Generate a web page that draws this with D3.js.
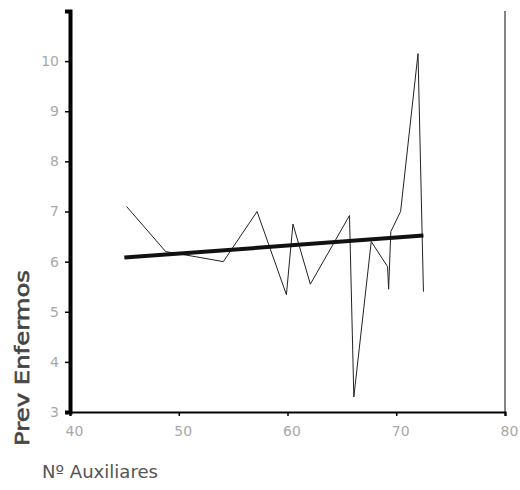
<!DOCTYPE html>
<html>
<head>
<meta charset="utf-8">
<script src="https://cdn.jsdelivr.net/npm/d3@7"></script>
<style>
  html, body { margin: 0; padding: 0; background: #fff; }
  svg { display: block; }
</style>
</head>
<body>
<svg id="chart" width="520" height="490"></svg>
<script>
// Data
const auxiliares = [45.2, 48.8, 51.5, 54.1, 57.2, 59.9, 60.5, 62.1, 65.7, 66.1, 67.7, 69.2, 69.3, 69.5, 70.4, 72.0, 72.5];
const prevEnfermos = [7.1, 6.2, 6.1, 6.0, 7.0, 5.34, 6.75, 5.55, 6.92, 3.3, 6.4, 5.9, 5.45, 6.6, 7.0, 10.15, 5.4];
const trendX = [45, 72.5];
const trendY = [6.08, 6.52];
const xTicks = [40, 50, 60, 70, 80];
const yTicks = [3, 4, 5, 6, 7, 8, 9, 10, 11];
const yTickLabels = ["3", "4", "5", "6", "7", "8", "9", "10", ""];
const xTitle = "Nº Auxiliares";
const yTitle = "Prev Enfermos";

(function () {
const svg = d3.select("#chart");
const mLeft = 70, mRight = 505, mTop = 11, mBottom = 412;

const x = d3.scaleLinear().domain([40, 80]).range([mLeft, mRight]);
const y = d3.scaleLinear().domain([3, 11]).range([mBottom, mTop]);

// right border
svg.append("line")
  .attr("x1", mRight).attr("x2", mRight)
  .attr("y1", mTop).attr("y2", mBottom)
  .attr("stroke", "#333").attr("stroke-width", 1.2);

// X axis
const xAxis = svg.append("g")
  .attr("transform", `translate(0,${mBottom})`)
  .call(d3.axisBottom(x).tickValues(xTicks).tickSize(4).tickPadding(10).tickFormat(d3.format("d")));
xAxis.select(".domain").attr("stroke", "#000").attr("stroke-width", 2.2);
xAxis.selectAll(".tick line").attr("stroke", "#000").attr("stroke-width", 1.5);
xAxis.selectAll(".tick text")
  .attr("fill", "#a8a8a8").attr("font-size", 14).attr("dx", 4)
  .attr("font-family", "DejaVu Sans, sans-serif");

// Y axis
const yAxis = svg.append("g")
  .attr("transform", `translate(${mLeft},0)`)
  .call(d3.axisLeft(y).tickValues(yTicks).tickSize(5).tickPadding(6)
    .tickFormat((d, i) => yTickLabels[i]));
yAxis.select(".domain").attr("stroke", "#000").attr("stroke-width", 4);
yAxis.selectAll(".tick line").attr("stroke", "#000").attr("stroke-width", 1.5);
yAxis.selectAll(".tick text")
  .attr("fill", "#a8a8a8").attr("font-size", 14)
  .attr("font-family", "DejaVu Sans, sans-serif");

// Data line
const pts = auxiliares.map((v, i) => [v, prevEnfermos[i]]);
svg.append("path")
  .datum(pts)
  .attr("fill", "none")
  .attr("stroke", "#222")
  .attr("stroke-width", 1)
  .attr("d", d3.line().x(d => x(d[0])).y(d => y(d[1])));

// Trend line
const tpts = trendX.map((v, i) => [v, trendY[i]]);
svg.append("path")
  .datum(tpts)
  .attr("fill", "none")
  .attr("stroke", "#111")
  .attr("stroke-width", 4)
  .attr("d", d3.line().x(d => x(d[0])).y(d => y(d[1])));

// Axis titles
svg.append("text")
  .attr("x", 42).attr("y", 478)
  .attr("font-family", "DejaVu Sans, sans-serif")
  .attr("font-size", 17)
  .attr("fill", "#555")
  .attr("textLength", 116)
  .attr("lengthAdjust", "spacingAndGlyphs")
  .text(xTitle);

svg.append("text")
  .attr("transform", "translate(29,358) rotate(-90)")
  .attr("text-anchor", "middle")
  .attr("font-family", "DejaVu Sans, sans-serif")
  .attr("font-size", 19)
  .attr("fill", "#444")
  .attr("stroke", "#444")
  .attr("stroke-width", 0.6)
  .attr("textLength", 176)
  .attr("lengthAdjust", "spacingAndGlyphs")
  .text(yTitle);
})();
</script>
</body>
</html>
